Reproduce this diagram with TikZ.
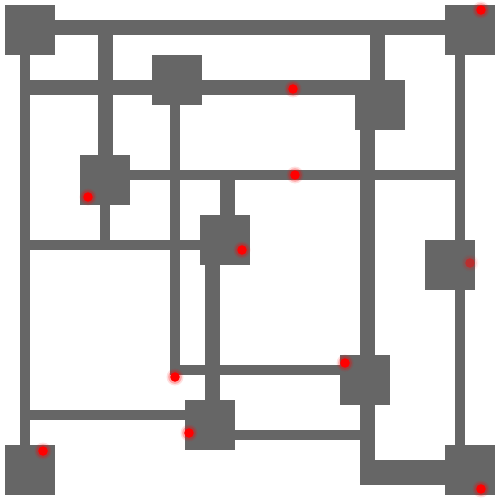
\documentclass[tikz,border=0pt]{standalone}
\usepackage{tikz}
\usetikzlibrary{calc,positioning}
\definecolor{wire}{HTML}{666666}
\definecolor{spot}{HTML}{FF0000}

\begin{document}
\begin{tikzpicture}[
		x=0.02cm,
		y=-0.02cm,
		line cap=butt,
		line join=miter,
		pad/.style={fill=wire, draw=none, minimum size=1cm, inner sep=0pt, outer sep=0pt},
		widewire/.style={draw=wire, line width=0.3cm},
		slimwire/.style={draw=wire, line width=0.2cm}
		]
		
		\useasboundingbox (0,0) rectangle (500,500);
		
		%------------------------------------------------------------------
		% Wire end points
		%------------------------------------------------------------------
		\coordinate (topL)   at ( 30, 27.5);
		\coordinate (topR)   at (470, 27.5);
		
		\coordinate (leftT)  at ( 25,  30);
		\coordinate (leftB)  at ( 25, 470);
		
		\coordinate (rightT) at (460,  30);
		\coordinate (rightB) at (460, 470);
		
		\coordinate (rowAL)  at ( 25, 87.5);
		\coordinate (rowAR)  at (380, 87.5);
		
		\coordinate (colAT)  at (105.5, 27.5);
		\coordinate (colAB)  at (105.5, 180);
		\coordinate (colBT)  at (105, 180);
		\coordinate (colBB)  at (105, 245);
		
		\coordinate (rowBL)  at ( 25, 245);
		\coordinate (rowBR)  at (225, 245);
		
		\coordinate (colCT)  at (175,  80);
		\coordinate (colCB)  at (175, 370);
		\coordinate (rowCR)  at (365, 370);
		
		\coordinate (rowDL)  at (105, 175);
		\coordinate (rowDR)  at (460, 175);
		
		\coordinate (colDT)  at (227.5, 175);
		\coordinate (colDB)  at (227.5, 240);
		\coordinate (colET)  at (212.5, 240);
		\coordinate (colEB)  at (212.5, 425);
		
		\coordinate (colFT)  at (377.5, 27.5);
		\coordinate (colFB)  at (377.5, 105);
		\coordinate (colGT)  at (367.5, 105);
		\coordinate (colGB)  at (367.5, 472.5);
		
		\coordinate (rowEL)  at (210, 435);
		\coordinate (rowER)  at (367.5, 435);
		\coordinate (rowFL)  at ( 25, 415);
		\coordinate (rowFR)  at (210, 415);
		
		%------------------------------------------------------------------
		% Wires
		%------------------------------------------------------------------
		\draw[widewire] (topL) -- (topR);
		\draw[slimwire] (leftT) -- (leftB);
		\draw[slimwire] (rightT) -- (rightB);
		
		\draw[widewire] (rowAL) -- (rowAR);
		\draw[widewire] (colAT) -- (colAB);
		\draw[slimwire] (colBT) -- (colBB);
		\draw[slimwire] (rowBL) -- (rowBR);
		
		\draw[slimwire] (colCT) -- (colCB) -- (rowCR);
		\draw[slimwire] (rowDL) -- (rowDR);
		
		\draw[widewire] (colDT) -- (colDB);
		\draw[widewire] (colET) -- (colEB);
		
		\draw[widewire] (colFT) -- (colFB);
		\draw[widewire] (colGT) -- (colGB);
		
		% heavy strap into the lower right pad
		\fill[wire] (360,460) rectangle (470,485);
		
		\draw[slimwire] (rowEL) -- (rowER);
		\draw[slimwire] (rowFL) -- (rowFR);
		
		%------------------------------------------------------------------
		% Pads
		%------------------------------------------------------------------
		\node[pad] (padA) at ( 30,  30) {};
		\node[pad] (padB) at (470,  30) {};
		\node[pad] (padC) at (177,  80) {};
		\node[pad] (padD) at (380, 105) {};
		\node[pad] (padE) at (105, 180) {};
		\node[pad] (padF) at (225, 240) {};
		\node[pad] (padG) at (450, 265) {};
		\node[pad] (padH) at (365, 380) {};
		\node[pad] (padI) at (210, 425) {};
		\node[pad] (padJ) at ( 30, 470) {};
		\node[pad] (padK) at (470, 470) {};
		
		%------------------------------------------------------------------
		% Red glow spots
		%------------------------------------------------------------------
		\foreach \px/\py/\op in {481/10/1, 293/89/1, 295/175/1, 88/197/1,
			242/250/1, 470/263/0.45, 345/363/1, 175/377/1, 189/433/1,
			43/451/1, 481/489/1}{
			\fill[spot, opacity=0.12*\op] (\px,\py) circle (8.5);
			\fill[spot, opacity=0.25*\op] (\px,\py) circle (6.8);
			\fill[spot, opacity=\op] (\px,\py) circle (4.8);
		}
		
	\end{tikzpicture}
\end{document}
